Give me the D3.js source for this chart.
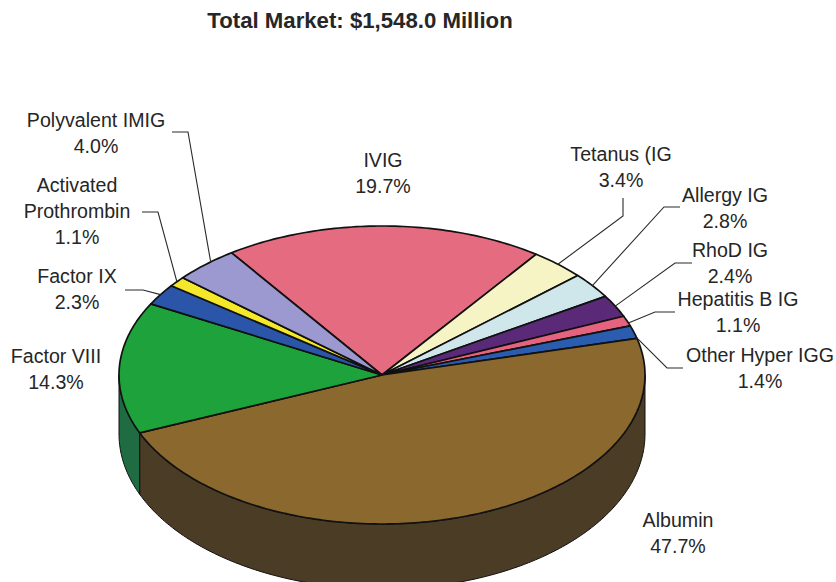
<!DOCTYPE html>
<html>
<head>
<meta charset="utf-8">
<style>
  html, body { margin: 0; padding: 0; background: #fff; overflow: hidden; }
  text { font-family: "Liberation Sans", Arial, sans-serif; fill: #262626; }
</style>
<script src="https://cdn.jsdelivr.net/npm/d3@7/dist/d3.min.js"></script>
</head>
<body>
<svg id="chart" width="836" height="582" style="display:block"></svg>
<script>
// Market share by product, clockwise from the top of the pie
const categories = ["IVIG", "Tetanus (IG", "Allergy IG", "RhoD IG", "Hepatitis B IG", "Other Hyper IGG",
                    "Albumin", "Factor VIII", "Factor IX", "Activated\nProthrombin", "Polyvalent IMIG"];
const shares = [19.7, 3.4, 2.8, 2.4, 1.1, 1.4, 47.7, 14.3, 2.3, 1.1, 4.0];
const sliceColors = ["#e56b80", "#f6f4c4", "#cfe6ea", "#5a2a78", "#e5637f", "#2a5db0",
                     "#8a682e", "#1ea23c", "#2a55a8", "#f5e82a", "#9c98d0"];
const wallColors = ["#74343f", "#7c7b63", "#687375", "#2d153c", "#73323f", "#152e58",
                    "#4b3c26", "#1f6b42", "#152a54", "#7a7415", "#4e4c6a"];
const chartTitle = "Total Market: $1,548.0 Million";

const svg = d3.select("#chart");
// Tilted disc: top face, and a slightly deeper lower rim for the perspective
const cx = 382, cy = 375, rx = 263, ry = 149;
const cyLower = 434, ryLower = 155;
const startAngle = -34.9 * Math.PI / 180;

// Slice angles come from the share values
const arcs = d3.pie().sort(null).value(d => d)
  .startAngle(startAngle).endAngle(startAngle + 2 * Math.PI)(shares);

const px = a => cx + rx * Math.sin(a);
const py = a => cy - ry * Math.cos(a);
const pyLower = a => cyLower - ryLower * Math.cos(a);
const line = d3.line();

function rimPoints(a0, a1, yOf = py) {
  const n = Math.max(2, Math.ceil((a1 - a0) * 60));
  return d3.range(n + 1).map(i => {
    const a = a0 + (a1 - a0) * i / n;
    return [px(a), yOf(a)];
  });
}

// Side wall: only the part of the rim facing the viewer (90deg to 270deg)
const wallLayer = svg.append("g");
arcs.forEach((d, i) => {
  const a0 = Math.max(d.startAngle, Math.PI / 2);
  const a1 = Math.min(d.endAngle, 3 * Math.PI / 2);
  if (a1 <= a0) return;
  const top = rimPoints(a0, a1);
  const bottom = rimPoints(a0, a1, pyLower).reverse();
  wallLayer.append("path")
    .attr("d", line(top.concat(bottom)) + "Z")
    .attr("fill", wallColors[i])
    .attr("stroke", "#111").attr("stroke-width", 1);
});

// Top face wedges
svg.append("g").selectAll("path").data(arcs).join("path")
  .attr("d", d => line([[cx, cy], ...rimPoints(d.startAngle, d.endAngle)]) + "Z")
  .attr("fill", (d, i) => sliceColors[i])
  .attr("stroke", "#111").attr("stroke-width", 1.7).attr("stroke-linejoin", "round");

// Title
svg.append("text").attr("x", 360).attr("y", 28).attr("text-anchor", "middle")
  .attr("font-size", 22.2).attr("font-weight", "bold").text(chartTitle);

// Label centres and first-line baselines, one per slice
const labelX = [383, 621, 725, 730, 738, 760, 678, 56, 77, 77, 96];
const labelY = [167, 161, 202, 257, 306, 362, 527, 363, 283, 192, 127];
const lineStep = 25.8;

categories.forEach((name, i) => {
  const lines = name.split("\n").concat(shares[i].toFixed(1) + "%");
  const t = svg.append("text").attr("text-anchor", "middle").attr("font-size", 19.6);
  lines.forEach((s, j) => {
    t.append("tspan").attr("x", labelX[i]).attr("y", labelY[i] + j * lineStep).text(s);
  });
});

// Leader polylines: slice index, free end, elbow, position along the slice rim
const leaders = [
  [1, 623, 198, 623, 216, 0.5],
  [2, 680, 207, 664, 207, 0.5],
  [3, 692, 263, 675, 263, 0.5],
  [4, 675, 312, 655, 312, 0.7],
  [5, 683, 368, 667, 368, 0.95],
  [8, 125, 290, 143, 290, 0.5],
  [9, 142, 212, 158, 212, 0.5],
  [10, 172, 132, 188, 132, 0.6]
];
const leaderLayer = svg.append("g").attr("fill", "none")
  .attr("stroke", "#2a2a2a").attr("stroke-width", 1.1);
leaders.forEach(([i, x0, y0, x1, y1, f]) => {
  const a = arcs[i].startAngle + (arcs[i].endAngle - arcs[i].startAngle) * f;
  leaderLayer.append("path").attr("d", line([[x0, y0], [x1, y1], [px(a), py(a)]]));
});
</script>
</body>
</html>
